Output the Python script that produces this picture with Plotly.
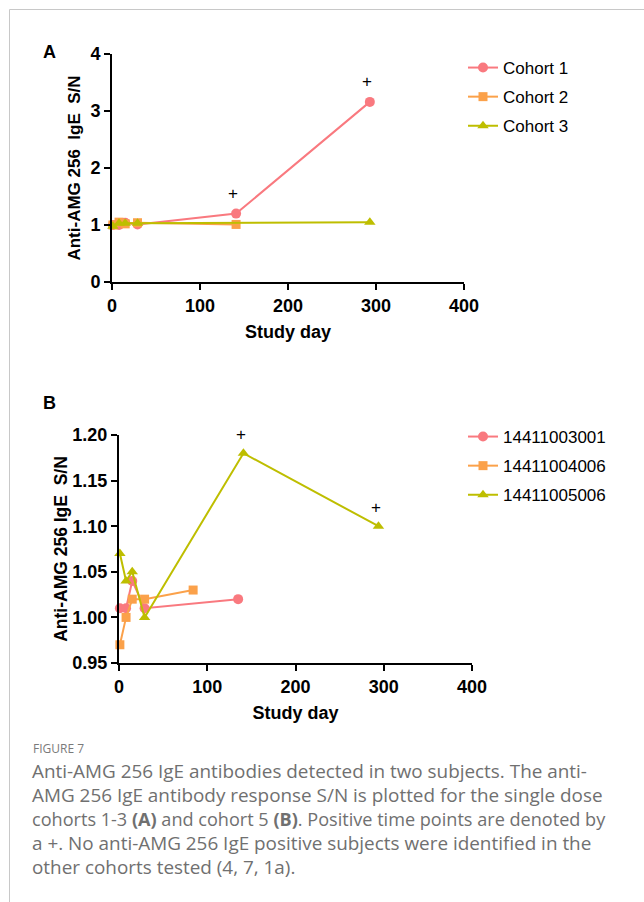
import plotly.graph_objects as go

W, H = 644, 902

# ---------------- data ----------------
# Panel A (single dose cohorts 1-3)
a_names = ["Cohort 1", "Cohort 2", "Cohort 3"]
a_c1_day = [1, 8, 15, 29, 141, 293]
a_c1_val = [1.00, 1.00, 1.04, 1.01, 1.20, 3.16]
a_c2_day = [1, 8, 15, 29, 141]
a_c2_val = [1.00, 1.05, 1.02, 1.04, 1.01]
a_c3_day = [1, 8, 15, 29, 293]
a_c3_val = [0.98, 1.03, 1.03, 1.03, 1.05]
a_pos_day = [141, 293]
a_pos_val = [1.20, 3.16]

# Panel B (cohort 5 subjects)
b_names = ["14411003001", "14411004006", "14411005006"]
b_s1_day = [1, 8, 15, 29, 135]
b_s1_val = [1.01, 1.01, 1.04, 1.01, 1.02]
b_s2_day = [1, 8, 15, 29, 84]
b_s2_val = [0.97, 1.00, 1.02, 1.02, 1.03]
b_s3_day = [1, 8, 15, 29, 141, 294]
b_s3_val = [1.07, 1.04, 1.05, 1.00, 1.18, 1.10]
b_pos_day = [141, 294]
b_pos_val = [1.18, 1.10]

x_ticks = [0, 100, 200, 300, 400]
a_y_ticks = [0, 1, 2, 3, 4]
b_y_ticks = [0.95, 1.00, 1.05, 1.10, 1.15, 1.20]

colors = ["#F9797F", "#FBA14A", "#BEBE00"]
symbols = ["circle", "square", "triangle-up"]

caption_title = "FIGURE 7"
caption_lines = [
    "Anti-AMG 256 IgE antibodies detected in two subjects. The anti-",
    "AMG 256 IgE antibody response S/N is plotted for the single dose",
    "cohorts 1-3 <b>(A)</b> and cohort 5 <b>(B)</b>. Positive time points are denoted by",
    "a +. No anti-AMG 256 IgE positive subjects were identified in the",
    "other cohorts tested (4, 7, 1a).",
]

# ---------------- helpers ----------------
def px_x(x):
    return x / W

def px_y(y):
    return 1 - y / H

FONT = "Liberation Sans, Arial, sans-serif"

fig = go.Figure()

a_series = [(a_c1_day, a_c1_val), (a_c2_day, a_c2_val), (a_c3_day, a_c3_val)]
b_series = [(b_s1_day, b_s1_val), (b_s2_day, b_s2_val), (b_s3_day, b_s3_val)]

msizes = [10, 9, 10]
for i, (d, v) in enumerate(a_series):
    fig.add_trace(go.Scatter(
        x=d, y=v, mode="lines+markers", name=a_names[i],
        line=dict(color=colors[i], width=2),
        marker=dict(color=colors[i], symbol=symbols[i], size=msizes[i]),
        xaxis="x", yaxis="y", legend="legend", legendgroup="a%d" % i,
        cliponaxis=False,
    ))
for i, (d, v) in enumerate(b_series):
    fig.add_trace(go.Scatter(
        x=d, y=v, mode="lines+markers", name=b_names[i],
        line=dict(color=colors[i], width=2),
        marker=dict(color=colors[i], symbol=symbols[i], size=msizes[i]),
        xaxis="x2", yaxis="y2", legend="legend2", legendgroup="b%d" % i,
        cliponaxis=False,
    ))

# "+" markers for positive time points
annotations = []
for d, v in zip(a_pos_day, a_pos_val):
    annotations.append(dict(x=d, y=v, xref="x", yref="y", text="+", showarrow=False,
                            xanchor="center", yanchor="middle",
                            yshift=20, xshift=-3, font=dict(family=FONT, size=17, color="black")))
for d, v in zip(b_pos_day, b_pos_val):
    annotations.append(dict(x=d, y=v, xref="x2", yref="y2", text="+", showarrow=False,
                            xanchor="center", yanchor="middle",
                            yshift=19, xshift=-2, font=dict(family=FONT, size=17, color="black")))

# panel letters
annotations.append(dict(x=px_x(50), y=px_y(52), xref="paper", yref="paper", text="<b>A</b>",
                        xanchor="center", yanchor="middle",
                        showarrow=False, font=dict(family=FONT, size=18, color="black")))
annotations.append(dict(x=px_x(50), y=px_y(403), xref="paper", yref="paper", text="<b>B</b>",
                        xanchor="center", yanchor="middle",
                        showarrow=False, font=dict(family=FONT, size=18, color="black")))

# caption
annotations.append(dict(x=px_x(32), y=px_y(748), xref="paper", yref="paper", text=caption_title,
                        showarrow=False, xanchor="left", yanchor="middle", borderpad=0,
                        font=dict(family="Open Sans, sans-serif", size=12, color="#7a7a7a")))
cap_y = [771, 795, 819, 843, 867]
cap_size = [18.9, 18.9, 18.1, 18.9, 18.9]
for t, yy, fs in zip(caption_lines, cap_y, cap_size):
    annotations.append(dict(x=px_x(31), y=px_y(yy), xref="paper", yref="paper", text=t,
                            showarrow=False, xanchor="left", yanchor="middle", borderpad=0,
                            font=dict(family="Open Sans, sans-serif", size=fs, color="#707070")))

tickfont = dict(family=FONT, size=18, color="black", weight="bold")
titlefont = dict(family=FONT, size=18, color="black", weight="bold")
axis_common = dict(showline=True, linewidth=2, linecolor="black", ticks="outside",
                   ticklen=6, tickwidth=2, tickcolor="black", showgrid=False,
                   zeroline=False, tickfont=tickfont, automargin=False)

fig.update_layout(
    width=W, height=H,
    margin=dict(l=0, r=0, t=0, b=0),
    paper_bgcolor="white", plot_bgcolor="white",
    showlegend=True,
    xaxis=dict(domain=[px_x(112), px_x(464)], range=[0, 400], tickvals=x_ticks,
               anchor="y", title=dict(text="Study day", font=titlefont, standoff=11),
               **axis_common),
    yaxis=dict(domain=[px_y(282), px_y(54)], range=[0, 4], tickvals=a_y_ticks,
               anchor="x", title=dict(text="Anti-AMG 256\u00a0 IgE\u00a0 S/N",
                                      font=dict(family=FONT, size=17, color="black", weight="bold"),
                                      standoff=5),
               **axis_common),
    xaxis2=dict(domain=[px_x(119), px_x(472)], range=[0, 400], tickvals=x_ticks,
                anchor="y2", title=dict(text="Study day", font=titlefont, standoff=11),
                **axis_common),
    yaxis2=dict(domain=[px_y(663), px_y(435)], range=[0.95, 1.20], tickvals=b_y_ticks,
                tickformat=".2f", anchor="x2",
                title=dict(text="Anti-AMG 256 IgE\u00a0 S/N",
                           font=dict(family=FONT, size=17.5, color="black", weight="bold"),
                           standoff=0),
                **axis_common),
    legend=dict(x=px_x(463), y=px_y(50), xanchor="left", yanchor="top",
                font=dict(family=FONT, size=17, color="black"),
                traceorder="grouped", tracegroupgap=4, bgcolor="rgba(0,0,0,0)"),
    legend2=dict(x=px_x(463), y=px_y(419), xanchor="left", yanchor="top",
                 font=dict(family=FONT, size=17, color="black"),
                 traceorder="grouped", tracegroupgap=4, bgcolor="rgba(0,0,0,0)"),
    annotations=annotations,
    shapes=[
        dict(type="line", xref="paper", yref="paper", x0=px_x(9.5), x1=1, y0=px_y(9.5), y1=px_y(9.5),
             line=dict(color="#c8c8c8", width=1)),
        dict(type="line", xref="paper", yref="paper", x0=px_x(9.5), x1=px_x(9.5), y0=px_y(9.5), y1=0,
             line=dict(color="#c8c8c8", width=1)),
    ],
)

fig.write_html("out.html", config={"displayModeBar": False},
               post_script="document.body.style.margin='0';document.body.style.padding='0';"
                           "document.documentElement.style.overflow='hidden';")
